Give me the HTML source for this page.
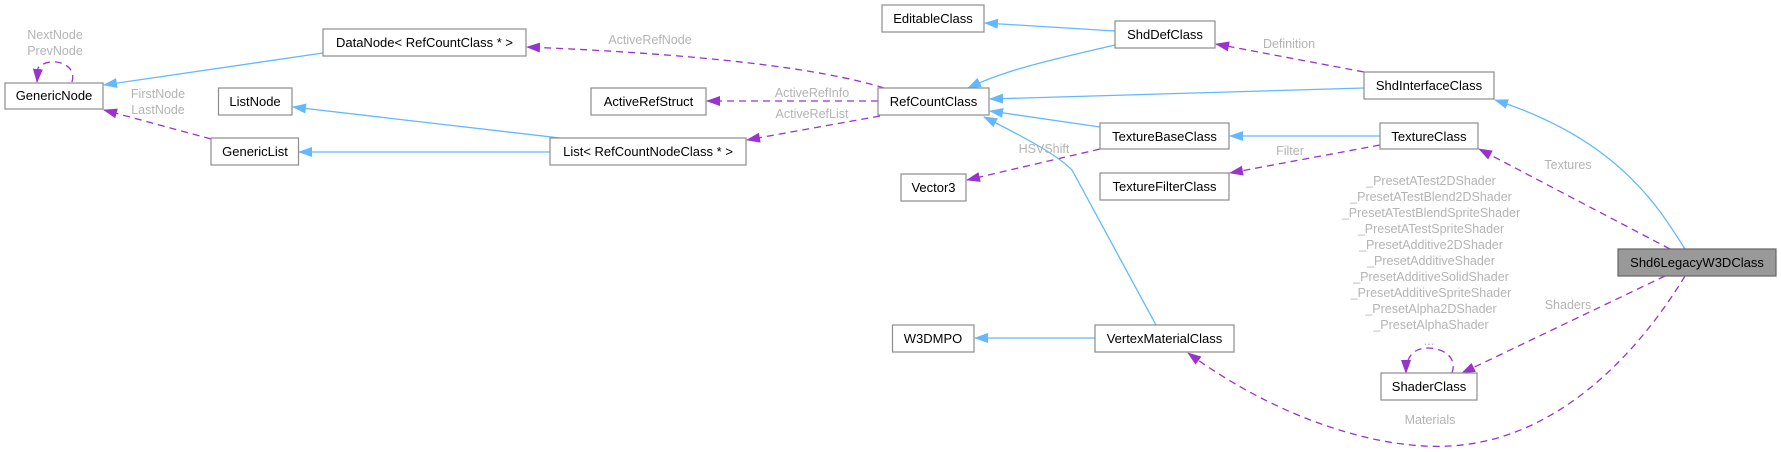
<!DOCTYPE html>
<html><head><meta charset="utf-8"><style>
html,body{margin:0;padding:0;background:#fff;}
svg{display:block;font-family:"Liberation Sans",Arial,sans-serif;}
.n{fill:#fff;stroke:#8c8c8c;stroke-width:1.2}
.t{font-size:13px;fill:#000;text-anchor:middle}
.l{font-size:12.5px;fill:#b4b4b4;text-anchor:middle}
.b{fill:none;stroke:#63b8ff;stroke-width:1.3}
.p{fill:none;stroke:#9a32cd;stroke-width:1.3;stroke-dasharray:7,5}
</style></head><body>
<svg width="1781" height="452" viewBox="0 0 1781 452" xmlns="http://www.w3.org/2000/svg">
<defs>
<marker id="ab" markerWidth="14" markerHeight="10" refX="13" refY="5" orient="auto" markerUnits="userSpaceOnUse"><path d="M0,0 L14,5 L0,10 z" fill="#63b8ff"/></marker>
<marker id="ap" markerWidth="14" markerHeight="10" refX="13" refY="5" orient="auto" markerUnits="userSpaceOnUse"><path d="M0,0 L14,5 L0,10 z" fill="#9a32cd"/></marker>
</defs>
<!-- edges -->
<path class="b" d="M323,53 L104,85" marker-end="url(#ab)"/>
<path class="p" d="M72,82 C78,62 48,56 38,68 L37,82" marker-end="url(#ap)"/>
<path class="p" d="M211,139 L104,110" marker-end="url(#ap)"/>
<path class="b" d="M560,138 L293,107" marker-end="url(#ab)"/>
<path class="b" d="M550,152 L299,152" marker-end="url(#ab)"/>
<path class="p" d="M884,88 C820,68 700,54 527,47" marker-end="url(#ap)"/>
<path class="p" d="M878,101 L707,101" marker-end="url(#ap)"/>
<path class="p" d="M880,116 L747,140" marker-end="url(#ap)"/>
<path class="b" d="M1115,31 L985,23" marker-end="url(#ab)"/>
<path class="b" d="M1115,45 C1060,58 1010,68 968,88" marker-end="url(#ab)"/>
<path class="b" d="M1364,88 L990,99" marker-end="url(#ab)"/>
<path class="b" d="M1100,127 L990,111" marker-end="url(#ab)"/>
<path class="p" d="M1364,72 L1216,44" marker-end="url(#ap)"/>
<path class="b" d="M1380,136 L1230,136" marker-end="url(#ab)"/>
<path class="p" d="M1380,145 L1230,173" marker-end="url(#ap)"/>
<path class="p" d="M1100,149 L967,180" marker-end="url(#ap)"/>
<path class="b" d="M1156,325 L1072,170 C1060,158 1040,145 984,117" marker-end="url(#ab)"/>
<path class="b" d="M1095,338 L975,338" marker-end="url(#ab)"/>
<path class="b" d="M1685,249 C1660,210 1620,140 1495,100" marker-end="url(#ab)"/>
<path class="p" d="M1670,249 L1479,149" marker-end="url(#ap)"/>
<path class="p" d="M1665,276 L1462,373" marker-end="url(#ap)"/>
<path class="p" d="M1452,373 C1458,355 1440,348 1428,348 C1414,348 1406,356 1406,373" marker-end="url(#ap)"/>
<path class="p" d="M1685,276 C1640,350 1560,440 1450,446 C1380,450 1280,420 1188,353" marker-end="url(#ap)"/>
<!-- nodes -->
<rect class="n" x="5" y="83" width="98" height="26"/><text class="t" x="54" y="100">GenericNode</text>
<rect class="n" x="323" y="29" width="203" height="27"/><text class="t" x="424.5" y="47">DataNode&lt; RefCountClass * &gt;</text>
<rect class="n" x="218.5" y="88" width="73.5" height="27"/><text class="t" x="255" y="106">ListNode</text>
<rect class="n" x="211" y="138" width="87.5" height="27"/><text class="t" x="255" y="156">GenericList</text>
<rect class="n" x="550" y="138" width="196" height="27"/><text class="t" x="648" y="156">List&lt; RefCountNodeClass * &gt;</text>
<rect class="n" x="882" y="5" width="102" height="27"/><text class="t" x="933" y="23">EditableClass</text>
<rect class="n" x="591" y="88" width="115" height="27"/><text class="t" x="648.5" y="106">ActiveRefStruct</text>
<rect class="n" x="878" y="88" width="111" height="27"/><text class="t" x="933.5" y="106">RefCountClass</text>
<rect class="n" x="901" y="174" width="65" height="27"/><text class="t" x="933.5" y="192">Vector3</text>
<rect class="n" x="1115" y="21" width="100" height="27"/><text class="t" x="1165" y="39">ShdDefClass</text>
<rect class="n" x="1364" y="72" width="130" height="27"/><text class="t" x="1429" y="90">ShdInterfaceClass</text>
<rect class="n" x="1100" y="123" width="129" height="26"/><text class="t" x="1164.5" y="141">TextureBaseClass</text>
<rect class="n" x="1380" y="123" width="98" height="26"/><text class="t" x="1429" y="141">TextureClass</text>
<rect class="n" x="1100" y="173" width="129" height="27"/><text class="t" x="1164.5" y="191">TextureFilterClass</text>
<rect class="n" x="892.5" y="325" width="81.5" height="27"/><text class="t" x="933" y="343">W3DMPO</text>
<rect class="n" x="1095" y="325" width="139" height="27"/><text class="t" x="1164.5" y="343">VertexMaterialClass</text>
<rect class="n" x="1381" y="373" width="96" height="27"/><text class="t" x="1429" y="391">ShaderClass</text>
<rect x="1618" y="249" width="158" height="27" fill="#999" stroke="#666" stroke-width="1.2"/><text class="t" x="1697" y="267">Shd6LegacyW3DClass</text>
<!-- labels -->
<text class="l" x="55" y="39">NextNode</text><text class="l" x="55" y="55">PrevNode</text>
<text class="l" x="158" y="98">FirstNode</text><text class="l" x="158" y="114">LastNode</text>
<text class="l" x="650" y="44">ActiveRefNode</text>
<text class="l" x="812" y="97">ActiveRefInfo</text>
<text class="l" x="812" y="118">ActiveRefList</text>
<text class="l" x="1044" y="153">HSVShift</text>
<text class="l" x="1289" y="48">Definition</text>
<text class="l" x="1290" y="155">Filter</text>
<text class="l" x="1568" y="169">Textures</text>
<text class="l" x="1568" y="309">Shaders</text>
<text class="l" x="1430" y="424">Materials</text>
<text class="l" x="1431" y="185">_PresetATest2DShader</text>
<text class="l" x="1431" y="201">_PresetATestBlend2DShader</text>
<text class="l" x="1431" y="217">_PresetATestBlendSpriteShader</text>
<text class="l" x="1431" y="233">_PresetATestSpriteShader</text>
<text class="l" x="1431" y="249">_PresetAdditive2DShader</text>
<text class="l" x="1431" y="265">_PresetAdditiveShader</text>
<text class="l" x="1431" y="281">_PresetAdditiveSolidShader</text>
<text class="l" x="1431" y="297">_PresetAdditiveSpriteShader</text>
<text class="l" x="1431" y="313">_PresetAlpha2DShader</text>
<text class="l" x="1431" y="329">_PresetAlphaShader</text>
<text class="l" x="1429" y="345">...</text>
</svg>
</body></html>
